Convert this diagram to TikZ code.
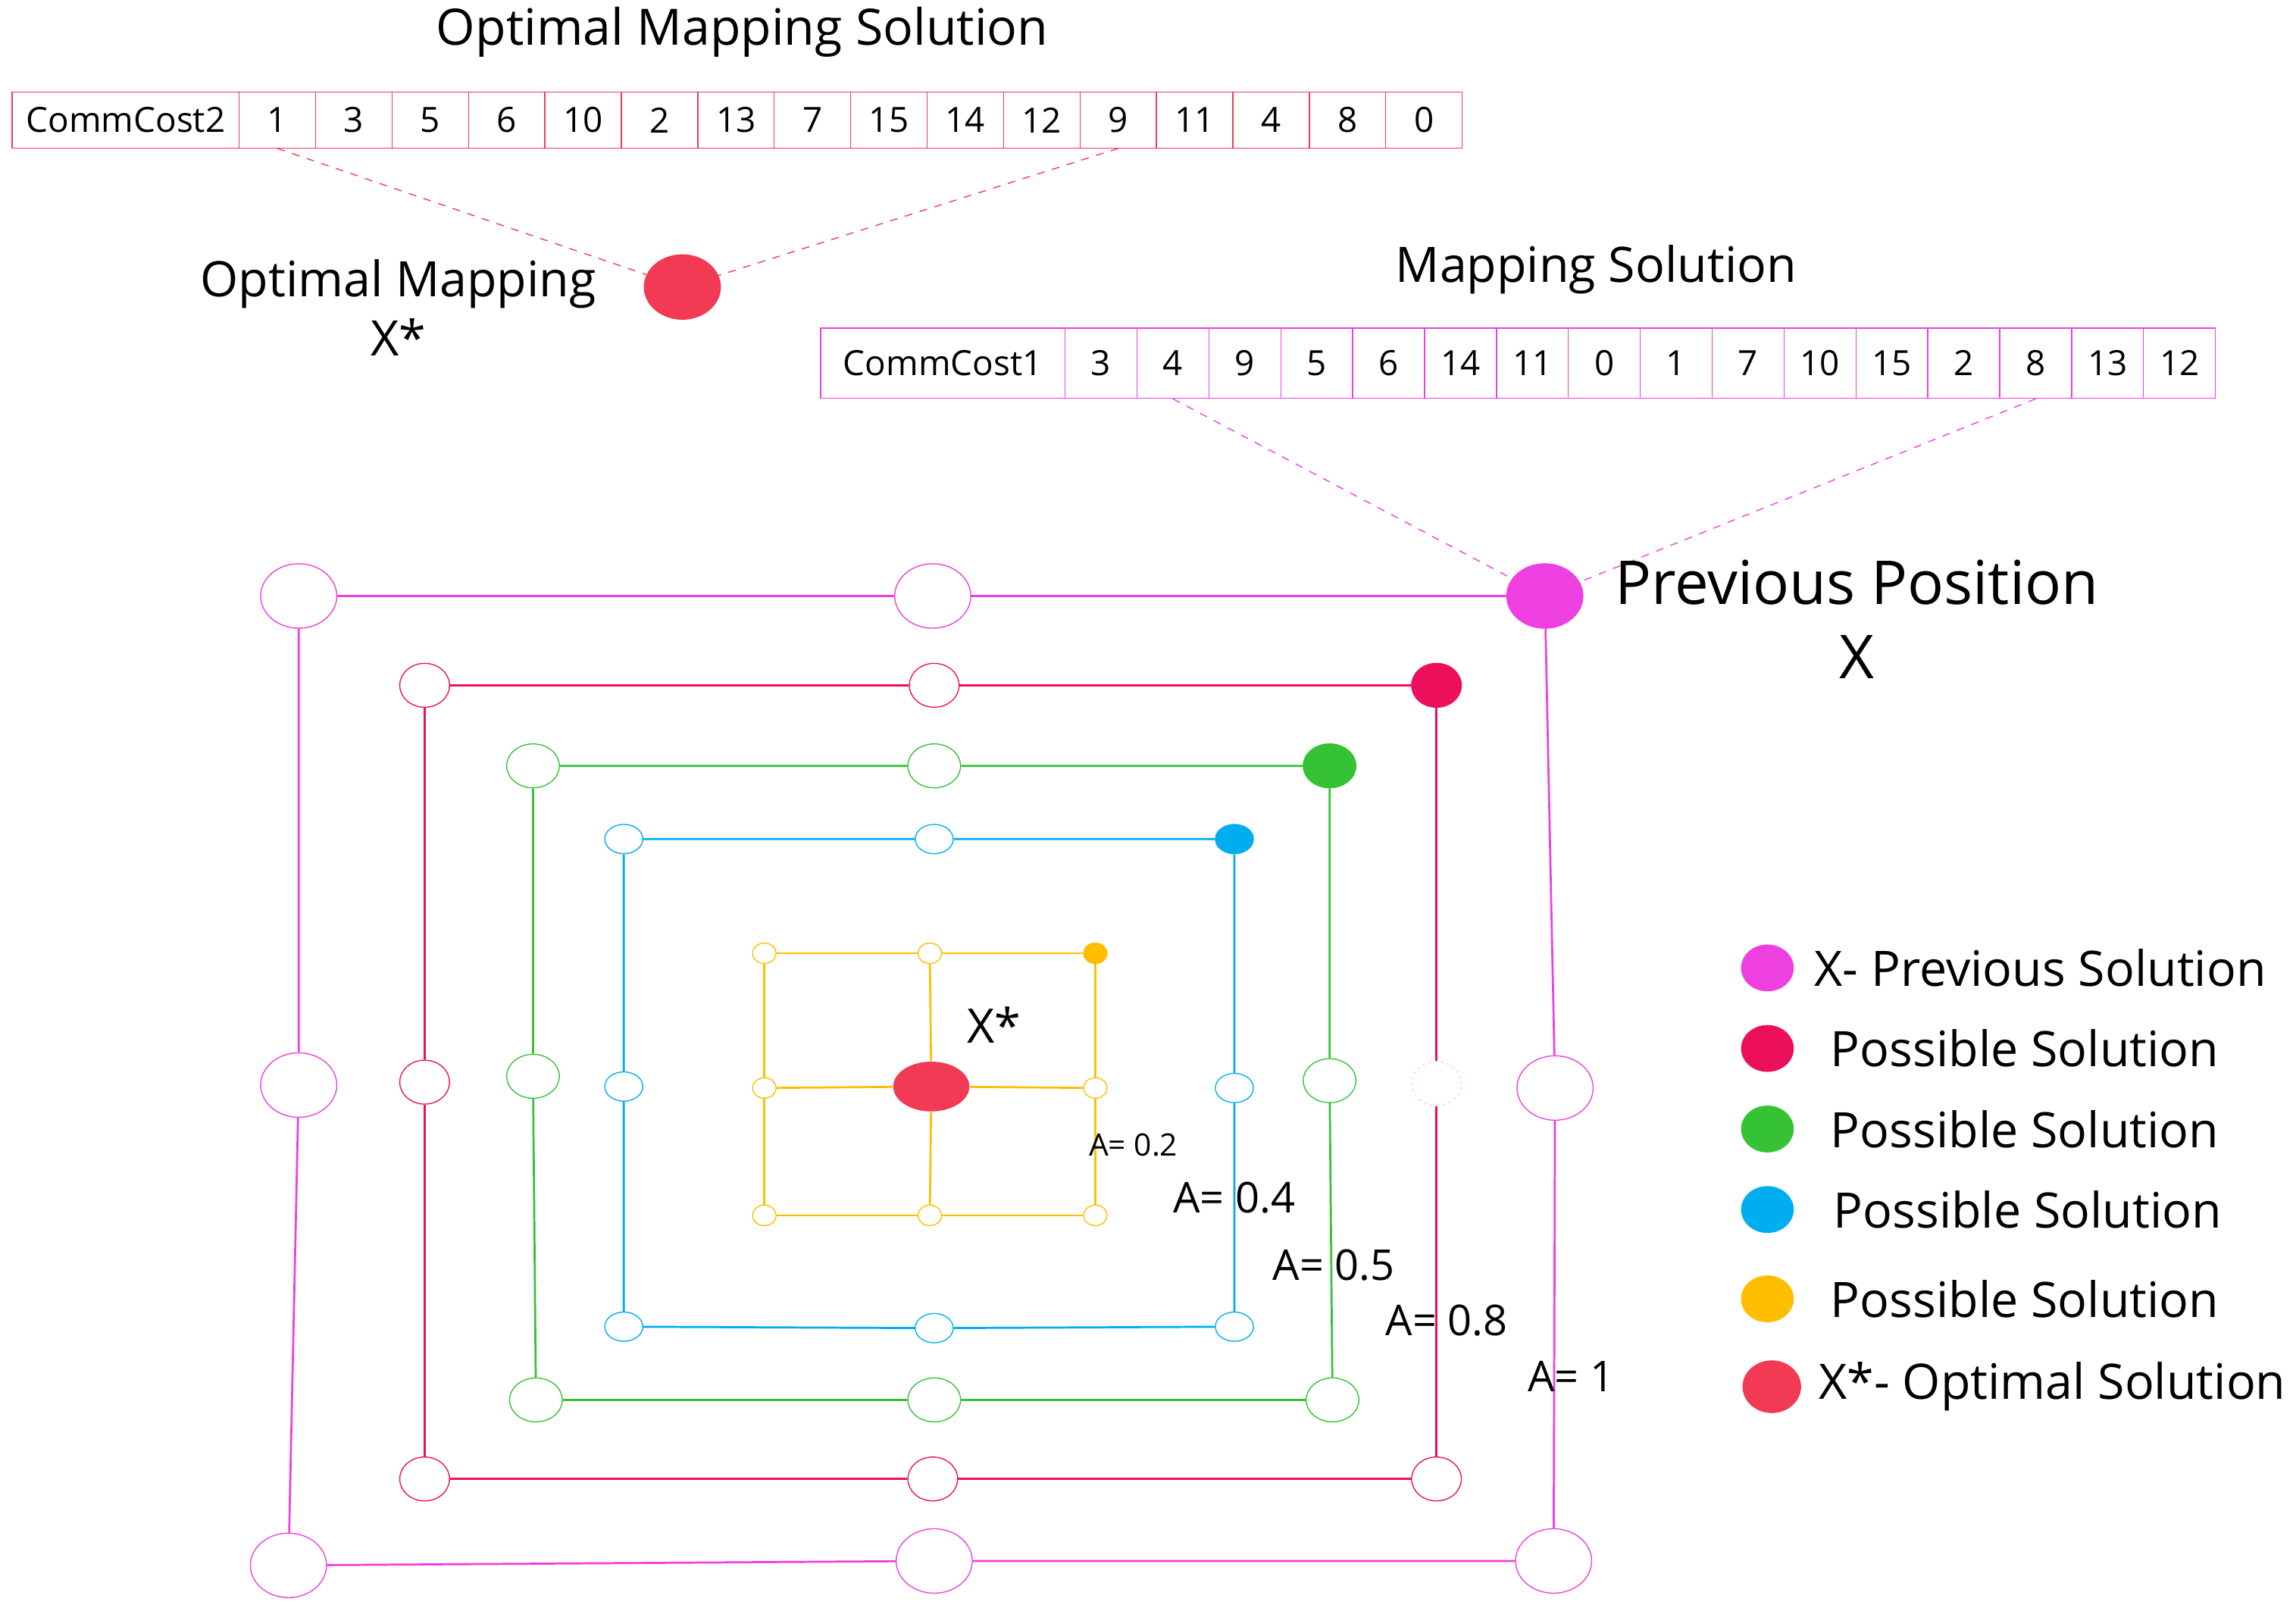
\documentclass[tikz,border=0pt]{standalone}
\usepackage{fontspec}
\setmainfont{Open Sans}
\usetikzlibrary{shapes.geometric}
\begin{document}
\definecolor{mag}{HTML}{EE3FE0}
\definecolor{crim}{HTML}{EC0F5C}
\definecolor{grn}{HTML}{35C235}
\definecolor{blu}{HTML}{00AEEF}
\definecolor{org}{HTML}{FFBE00}
\definecolor{optr}{HTML}{F23A55}
\begin{tikzpicture}[x=0.02cm,y=-0.02cm,
 cellA/.style={draw=optr,minimum height=38*0.02cm,inner sep=0pt,font=\fontsize{13.5}{15}\selectfont,anchor=west},
 cellB/.style={draw=mag,minimum height=48*0.02cm,inner sep=0pt,font=\fontsize{13.5}{15}\selectfont,anchor=west},
 el/.style={ellipse,draw,inner sep=0pt,minimum width=#1*0.04cm},
 bigM/.style={el=26,minimum height=44*0.02cm,draw=mag,fill=white},
 midR/.style={el=17,minimum height=30*0.02cm,draw=crim,fill=white},
 midG/.style={el=18,minimum height=30*0.02cm,draw=grn,fill=white},
 smB/.style={el=13,minimum height=20*0.02cm,draw=blu,fill=white},
 tnO/.style={el=8,minimum height=14*0.02cm,draw=org,fill=white},
 lg/.style={ellipse,minimum width=36*0.02cm,minimum height=32*0.02cm,inner sep=0pt},
 lt/.style={anchor=west,font=\fontsize{19}{21}\selectfont},
 al/.style={font=\fontsize{16.5}{18}\selectfont}]
\useasboundingbox (0,0) rectangle (1568,1100);
\fill[white] (0,0) rectangle (1568,1100);
% top array
\node[font=\fontsize{19.5}{22}\selectfont] (t1) at (507,22) {Optimal Mapping Solution};
\node[cellA,minimum width=155*0.02cm] (a0) at (8,82) {CommCost2};
\foreach \v [count=\i] in {1,3,5,6,10,2,13,7,15,14,12,9,11,4,8,0}{
  \node[cellA,minimum width=52.2*0.02cm] (a\i) at ({163+(\i-1)*52.2},82) {\v};}
\node[el=26,minimum height=44*0.02cm,draw=optr,fill=optr] (om) at (466,196) {};
\draw[optr,dashed] (a1.south) -- (om);
\draw[optr,dashed] (a12.south) -- (om);
\node[font=\fontsize{19}{21}\selectfont,align=center] (oml) at (272,210) {Optimal Mapping\\[2pt]X*};
% second array
\node[font=\fontsize{19}{22}\selectfont] (t2) at (1090,184) {Mapping Solution};
\node[cellB,minimum width=167*0.02cm] (b0) at (560,248) {CommCost1};
\foreach \v [count=\i] in {3,4,9,5,6,14,11,0,1,7,10,15,2,8,13,12}{
  \node[cellB,minimum width=49.1*0.02cm] (b\i) at ({727+(\i-1)*49.1},248) {\v};}
% magenta square
\node[bigM] (m1) at (204,407) {};
\node[bigM] (m2) at (637,407) {};
\node[bigM,fill=mag] (m3) at (1055,407) {};
\node[bigM] (m4) at (204,741) {};
\node[bigM] (m5) at (1062,743) {};
\node[bigM] (m6) at (197,1069) {};
\node[bigM] (m7) at (638,1066) {};
\node[bigM] (m8) at (1061,1066) {};
\draw[mag,dashed] (b2.south) -- (m3);
\draw[mag,dashed] (b14.south) -- (m3);
\draw[mag,thick] (m1)--(m2)--(m3)--(m5)--(m8)--(m7)--(m6)--(m4)--(m1);
\node[font=\fontsize{23.5}{27}\selectfont,align=center] (ppl) at (1268,423) {Previous Position\\[2pt]X};
% red square
\node[midR] (r1) at (290,468) {};
\node[midR] (r2) at (638,468) {};
\node[midR,fill=crim] (r3) at (981,468) {};
\node[midR] (r4) at (290,739) {};
\node[midR,draw=crim!40,dotted] (r5) at (981,740) {};
\node[midR] (r6) at (290,1010) {};
\node[midR] (r7) at (637,1010) {};
\node[midR] (r8) at (981,1010) {};
\draw[crim,thick] (r1)--(r2)--(r3)--(r5)--(r8)--(r7)--(r6)--(r4)--(r1);
% green
\node[midG] (g1) at (364,523) {};
\node[midG] (g2) at (638,523) {};
\node[midG,fill=grn] (g3) at (908,523) {};
\node[midG] (g4) at (364,735) {};
\node[midG] (g5) at (908,738) {};
\node[midG] (g6) at (366,956) {};
\node[midG] (g7) at (638,956) {};
\node[midG] (g8) at (910,956) {};
\draw[grn,thick] (g1)--(g2)--(g3)--(g5)--(g8)--(g7)--(g6)--(g4)--(g1);
% blue
\node[smB] (u1) at (426,573) {};
\node[smB] (u2) at (638,573) {};
\node[smB,fill=blu] (u3) at (843,573) {};
\node[smB] (u4) at (426,742) {};
\node[smB] (u5) at (843,743) {};
\node[smB] (u6) at (426,906) {};
\node[smB] (u7) at (638,907) {};
\node[smB] (u8) at (843,906) {};
\draw[blu,thick] (u1)--(u2)--(u3)--(u5)--(u8)--(u7)--(u6)--(u4)--(u1);
% orange grid
\node[tnO] (o1) at (522,651) {};
\node[tnO] (o2) at (635,651) {};
\node[tnO,fill=org] (o3) at (748,651) {};
\node[tnO] (o4) at (522,743) {};
\node[tnO] (o6) at (748,743) {};
\node[tnO] (o7) at (522,830) {};
\node[tnO] (o8) at (635,830) {};
\node[tnO] (o9) at (748,830) {};
\node[ellipse,inner sep=0pt,minimum width=52*0.02cm,minimum height=34*0.02cm,fill=optr] (c) at (636,742) {};
\draw[org,thick] (o1)--(o2)--(o3)--(o6)--(o9)--(o8)--(o7)--(o4)--(o1);
\draw[org,thick] (o2)--(c)--(o8) (o4)--(c)--(o6);
\node[font=\fontsize{18.5}{20}\selectfont] (xs) at (679,700) {X*};
\node[font=\fontsize{12}{14}\selectfont] (a02) at (774,782) {A= 0.2};
\node[al] (a04) at (843,818) {A= 0.4};
\node[al] (a05) at (911,864) {A= 0.5};
\node[al] (a08) at (988,902) {A= 0.8};
\node[al] (a1l) at (1073,940) {A= 1};
% legend
\node[lg,fill=mag] (l1) at (1207,661) {};
\node[lg,fill=crim] (l2) at (1207,716) {};
\node[lg,fill=grn] (l3) at (1207,771) {};
\node[lg,fill=blu] (l4) at (1207,826) {};
\node[lg,fill=org] (l5) at (1207,887) {};
\node[lg,minimum width=40*0.02cm,minimum height=36*0.02cm,fill=optr] (l6) at (1210,947) {};
\node[lt] at (1233,661) {X- Previous Solution};
\node[lt] at (1244,716) {Possible Solution};
\node[lt] at (1244,771) {Possible Solution};
\node[lt] at (1246,826) {Possible Solution};
\node[lt] at (1244,887) {Possible Solution};
\node[lt] at (1236,947) {X*- Optimal Solution};
\end{tikzpicture}
\end{document}
